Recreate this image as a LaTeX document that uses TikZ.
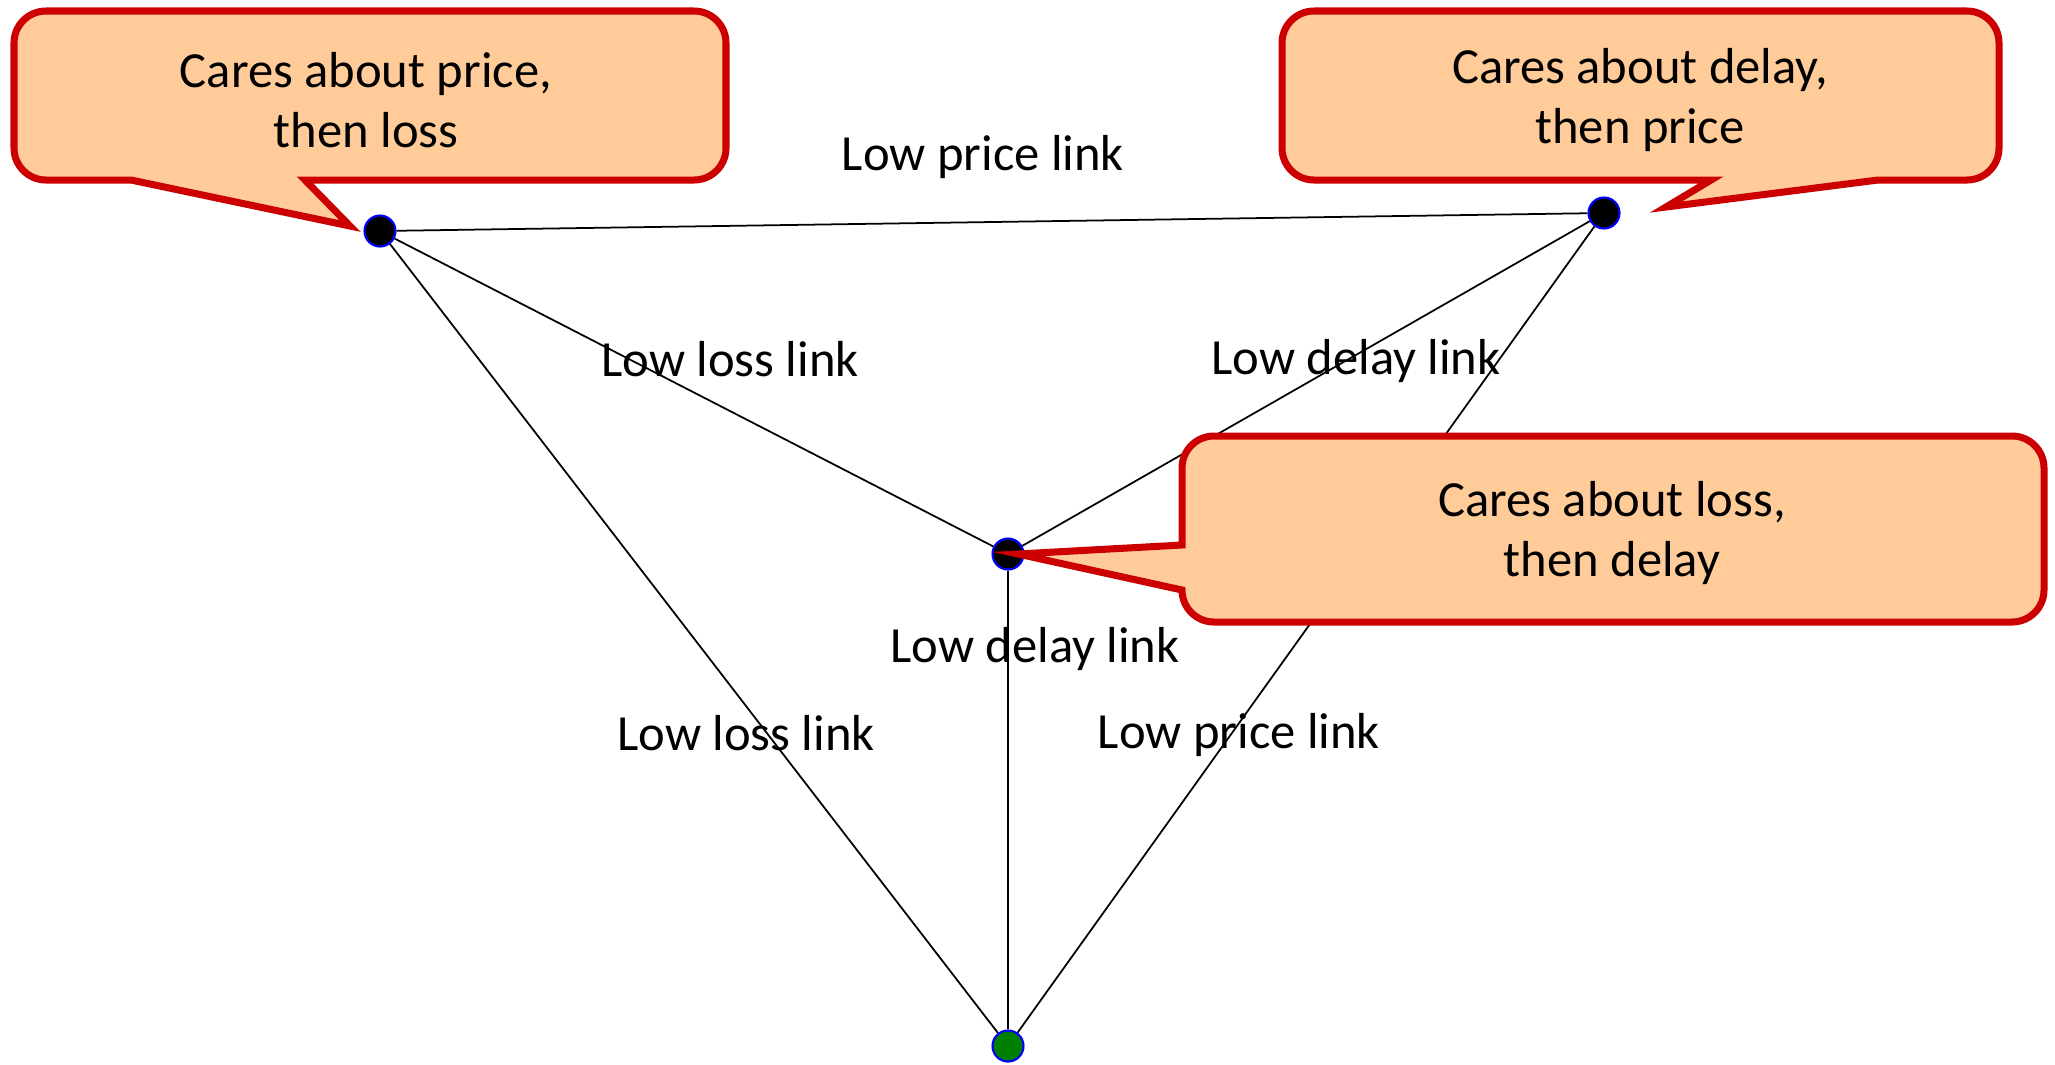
\documentclass[tikz,border=0pt]{standalone}
\usepackage{fontspec}
\setmainfont{Carlito}
\definecolor{bubblefill}{HTML}{FFCC99}
\definecolor{bubbleline}{HTML}{CC0000}
\definecolor{srcgreen}{HTML}{008000}

\begin{document}
\begin{tikzpicture}[
        user/.style={circle, draw=blue, fill=black, line width=0.6pt, minimum size=0.31cm, inner sep=0pt},
        src/.style={user, fill=srcgreen},
        link/.style={black, line width=0.5pt},
        linklabel/.style={inner sep=0pt, font=\fontsize{14.4pt}{17.2pt}\selectfont},
        bubble/.style={draw=bubbleline, fill=bubblefill, line width=2pt, line join=miter},
        bubbletext/.style={linklabel, align=center}
    ]
        \useasboundingbox (0,0) rectangle (20.55,-10.64);
        \node[user] (price) at (3.80,-2.31) {};
        \node[user] (delay) at (16.04,-2.13) {};
        \node[user] (loss) at (10.08,-5.54) {};
        \node[src] (src) at (10.08,-10.46) {};
        \draw[link] (price) -- (delay);
        \draw[link] (price) -- (loss);
        \draw[link] (loss) -- (delay);
        \draw[link] (price) -- (src);
        \draw[link] (loss) -- (src);
        \draw[link] (delay) -- (src);
        \node[linklabel] (toplink) at (9.83,-1.57) {Low price link};
        \node[linklabel] (leftlink) at (7.30,-3.59) {Low loss link};
        \node[linklabel] (rightlink) at (13.56,-3.61) {Low delay link};
        \node[linklabel] (midlink) at (10.35,-6.49) {Low delay link};
        \node[linklabel] (srcleftlink) at (7.46,-7.33) {Low loss link};
        \node[linklabel] (srcrightlink) at (12.39,-7.35) {Low price link};
        % speech bubbles
        \draw[bubble] (3.70,-0.11) [rounded corners=0.32cm] -- (0.14,-0.11) -- (0.14,-1.80) [sharp corners] -- (1.31,-1.80) -- (3.50,-2.26) -- (3.05,-1.80) [rounded corners=0.32cm] -- (7.26,-1.80) -- (7.26,-0.11) -- cycle;
        \node[bubbletext] (pricetext) at (3.66,-1.00) {Cares about price,\\then loss};
        \draw[bubble] (16.40,-0.11) [rounded corners=0.32cm] -- (12.82,-0.11) -- (12.82,-1.80) [sharp corners] -- (17.11,-1.80) -- (16.66,-2.07) -- (18.78,-1.80) [rounded corners=0.32cm] -- (19.99,-1.80) -- (19.99,-0.11) -- cycle;
        \node[bubbletext] (delaytext) at (16.40,-1.00) {Cares about delay,\\then price};
        \draw[bubble] (16.00,-4.36) [rounded corners=0.32cm] -- (11.82,-4.36) [sharp corners] -- (11.82,-5.45) -- (10.18,-5.54) -- (11.82,-5.90) [rounded corners=0.32cm] -- (11.82,-6.22) -- (20.44,-6.22) -- (20.44,-4.36) -- cycle;
        \node[bubbletext] (losstext) at (16.12,-5.33) {Cares about loss,\\then delay};
    \end{tikzpicture}
\end{document}
